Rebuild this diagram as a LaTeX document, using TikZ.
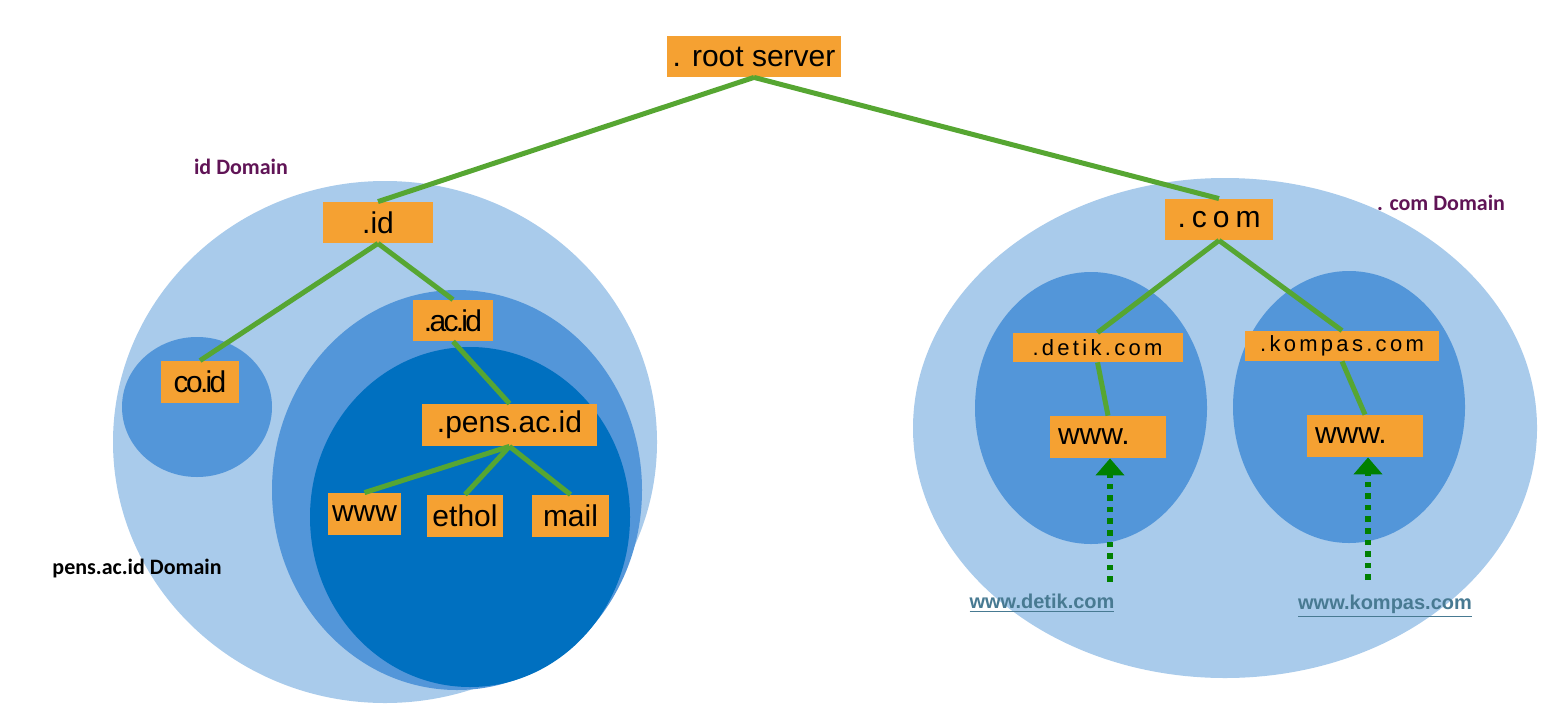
\documentclass[tikz,border=0pt]{standalone}
\usepackage{fontspec}
\setmainfont{Liberation Sans}
\newfontfamily\calibri{Carlito}
\newfontfamily\wide[LetterSpace=15]{Liberation Sans}
\newfontfamily\wider[LetterSpace=20]{Liberation Sans}
\newfontfamily\narrow[LetterSpace=-9]{Liberation Sans}
\usetikzlibrary{arrows.meta}
\definecolor{zone}{RGB}{169,203,235}
\definecolor{subzone}{RGB}{83,150,217}
\definecolor{deepzone}{RGB}{0,112,192}
\definecolor{boxfill}{RGB}{245,161,50}
\definecolor{leafgreen}{RGB}{86,166,50}
\definecolor{hintgreen}{RGB}{0,128,0}
\definecolor{urlcol}{RGB}{72,122,146}
\definecolor{domcol}{RGB}{96,20,86}
\tikzset{
  box/.style={
    rectangle,
    fill=boxfill,
    inner sep=0pt,
    font=\fontsize{15pt}{18pt}\selectfont
  },
  small/.style={
    box,
    font=\fontsize{11pt}{13pt}\selectfont
  },
  leftbox/.style={
    box,
    inner xsep=4pt,
    text width=50pt,
    align=left
  }
}
\tikzstyle{tie} = [draw=leafgreen, line width=2.5pt]
\tikzstyle{hint} = [draw=hintgreen, line width=2.8pt, dash pattern=on 2.8pt off 3pt, -{Triangle[width=14pt,length=8.5pt]}]
\tikzstyle{url} = [text=urlcol, font=\fontsize{10pt}{12pt}\selectfont\bfseries]
\def\dom#1{{\calibri\bfseries\fontsize{11pt}{13pt}\selectfont #1}}

\begin{document}
\begin{tikzpicture}[x=0.5pt, y=-0.5pt]
    \useasboundingbox (0,0) rectangle (1545,712);
    \fill[zone] (385,442) ellipse (272 and 261);
    \fill[subzone] (197,407) ellipse (75 and 70);
    \fill[subzone] (457,490) ellipse (185 and 200);
    \fill[deepzone] (470,517) ellipse (160 and 170);
    \fill[zone] (1225,428) ellipse (312 and 250);
    \fill[subzone] (1091,408) ellipse (116 and 136);
    \fill[subzone] (1349,407) ellipse (116 and 136);
    \node[box, minimum width=87pt, minimum height=20.5pt] (root) at (754,56.5) {. root server};
    \node[box, minimum width=55pt, minimum height=20.5pt] (id) at (378,222.5) {.id};
    \node[box, minimum width=40pt, minimum height=20.5pt] (acid) at (453,320.5) {\narrow .ac.id};
    \node[box, minimum width=39pt, minimum height=21pt] (coid) at (200,382) {\narrow co.id};
    \node[box, minimum width=87.5pt, minimum height=21pt] (pens) at (509.5,425) {.pens.ac.id};
    \node[box, minimum width=36.5pt, minimum height=21pt] (www) at (364.5,514) {www};
    \node[box, minimum width=38pt, minimum height=21pt] (ethol) at (465,516) {ethol};
    \node[box, minimum width=38.5pt, minimum height=21pt] (mail) at (570.5,516) {mail};
    \node[box, minimum width=54pt, minimum height=20.5pt] (com) at (1219,219.5) {\wider .com};
    \node[small, minimum width=85pt, minimum height=14.5pt] (detik) at (1097.5,347.5) {\wide .detik.com};
    \node[small, minimum width=97pt, minimum height=15pt] (kompas) at (1342,346) {\wide .kompas.com};
    \node[leftbox, minimum height=21pt] (dwww) at (1108,437) {www.};
    \node[leftbox, minimum height=21pt] (kwww) at (1365,436) {www.};
    \draw[tie] (root.south) -- (id.north);
    \draw[tie] (root.south) -- (com.north);
    \draw[tie] (id.south) -- (coid.north);
    \draw[tie] (id.south) -- (acid.north);
    \draw[tie] (acid.south) -- (pens.north);
    \foreach \leaf in {www,ethol,mail}
        \draw[tie] (pens.south) -- (\leaf.north);
    \draw[tie] (com.south) -- (detik.north);
    \draw[tie] (com.south) -- (kompas.north);
    \draw[tie] (detik.south) -- (dwww.north);
    \draw[tie] (kompas.south) -- (kwww.north);
    \node[text=domcol] (iddom) at (241,167) {\dom{id Domain}};
    \node[text=domcol] (comdom) at (1441,203) {\dom{. com Domain}};
    \node (pensdom) at (137,569) {\dom{pens.ac.id Domain}};
    \node[url] (detikurl) at (1042,603) {\underline{www.detik.com}};
    \node[url] (kompasurl) at (1385,606) {\underline{www.kompas.com}};
    \coordinate (dtail) at (1110,582);
    \coordinate (ktail) at (1368,580);
    \draw[hint] (dtail) -- (dtail |- dwww.south);
    \draw[hint] (ktail) -- (ktail |- kwww.south);
\end{tikzpicture}
\end{document}
